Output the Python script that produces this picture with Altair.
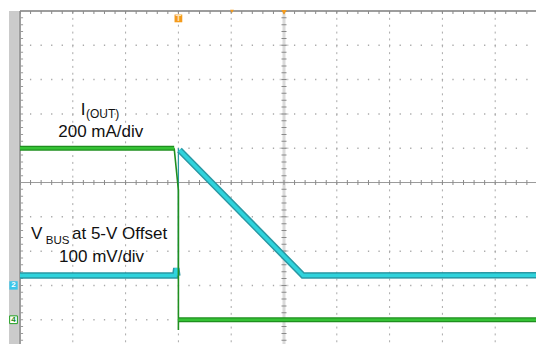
import altair as alt
import pandas as pd

# ---- data (time and amplitude in scope divisions, 0 = screen centre) ----
# I(OUT) trace, channel 4
iout_seg = ["a", "a", "b", "b", "b", "c", "c"]
iout_t = [-5.0, -2.08, -2.08, -2.0, -2.0, -2.0, 4.78]
iout_v = [1.0, 1.0, 1.0, -0.22, -4.3, -4.0, -4.0]

# VBUS trace, channel 2
vbus_seg = ["a", "a", "a", "a", "b", "b", "c", "c", "c"]
vbus_t = [-5.0, -2.06, -2.04, -2.02, -2.0, -2.0, -1.98, 0.36, 4.78]
vbus_v = [-2.71, -2.71, -2.5, -2.72, -2.72, 1.0, 0.95, -2.71, -2.70]

# labels
label_text = ["I", "(OUT)", "200 mA/div", "V", "BUS", "at 5-V Offset", "100 mV/div"]
label_t = [-3.85, -3.75, -4.275, -4.79, -4.51, -4.015, -4.26]
label_v = [1.97, 1.883, 1.329, -1.653, -1.79, -1.653, -2.315]
label_size = [17, 12, 17, 17, 11.5, 17, 17]

# graticule
vgrid_t = [-4, -3, -2, -1, 1, 2, 3, 4]
hgrid_v = [4, 3, 2, 1, -1, -2, -3, -4]
X_MIN, X_MAX = -5.0, 4.7727
Y_MIN, Y_MAX = -4.707, 5.0

xs = alt.Scale(domain=[X_MIN, X_MAX], nice=False, zero=False)
ys = alt.Scale(domain=[Y_MIN, Y_MAX], nice=False, zero=False)


def X(f="t"):
    return alt.X(f + ":Q", scale=xs, axis=None)


def Y(f="v"):
    return alt.Y(f + ":Q", scale=ys, axis=None)


def trace_df(seg, t, v):
    return pd.DataFrame({"seg": seg, "t": t, "v": v, "i": list(range(len(t)))})


vdf = pd.DataFrame({"t": vgrid_t, "top": Y_MAX, "bot": Y_MIN})
hdf = pd.DataFrame({"v": hgrid_v, "l": X_MIN, "r": X_MAX})

layers = []

# left grey bar
bar = alt.Chart(pd.DataFrame({"a": [-5.208], "b": [-5.02], "top": [Y_MAX], "bot": [Y_MIN]})).mark_rect(
    color="#cbcbcb").encode(x=X("a"), x2="b", y=Y("top"), y2="bot")
layers.append(bar)

# dotted grid
layers.append(alt.Chart(vdf).mark_rule(color="#a9a9a9", strokeWidth=1, strokeDash=[2, 4.86]).encode(
    x=X(), y=Y("top"), y2="bot"))
layers.append(alt.Chart(hdf).mark_rule(color="#a9a9a9", strokeWidth=1.5, strokeDash=[1.3, 9.26],
                                      strokeDashOffset=0.6).encode(y=Y(), x=X("l"), x2="r"))

# centre vertical axis
cv = pd.DataFrame({"t": [0.0], "top": [Y_MAX], "bot": [Y_MIN]})
layers.append(alt.Chart(cv).mark_rule(color="#dadada", strokeWidth=3).encode(x=X(), y=Y("top"), y2="bot"))
layers.append(alt.Chart(cv).mark_rule(color="#d2d2d2", strokeWidth=9, strokeDash=[1.5, 32.8],
                                      strokeDashOffset=0.75).encode(x=X(), y=Y("top"), y2="bot"))
layers.append(alt.Chart(cv).mark_rule(color="#8a8a8a", strokeWidth=5, strokeDash=[1, 5.86],
                                      strokeDashOffset=0.5).encode(x=X(), y=Y("top"), y2="bot"))
# centre horizontal axis
ch = pd.DataFrame({"v": [0.0], "l": [X_MIN], "r": [X_MAX]})
layers.append(alt.Chart(ch).mark_rule(color="#9a9a9a", strokeWidth=1).encode(y=Y(), x=X("l"), x2="r"))
layers.append(alt.Chart(ch).mark_rule(color="#8a8a8a", strokeWidth=5, strokeDash=[1, 9.56],
                                      strokeDashOffset=0.5).encode(y=Y(), x=X("l"), x2="r"))
# top border
tb = pd.DataFrame({"v": [Y_MAX], "l": [X_MIN], "r": [X_MAX]})
layers.append(alt.Chart(tb).mark_rule(color="#7d7d7d", strokeWidth=1.5).encode(y=Y(), x=X("l"), x2="r"))
tt = pd.DataFrame({"v": [4.958], "l": [X_MIN], "r": [X_MAX]})
layers.append(alt.Chart(tt).mark_rule(color="#8a8a8a", strokeWidth=3, strokeDash=[1, 9.56],
                                      strokeDashOffset=0.5).encode(y=Y(), x=X("l"), x2="r"))
# left border
lb = pd.DataFrame({"t": [X_MIN], "top": [Y_MAX], "bot": [Y_MIN]})
layers.append(alt.Chart(lb).mark_rule(color="#7d7d7d", strokeWidth=1.5).encode(x=X(), y=Y("top"), y2="bot"))
lt = pd.DataFrame({"t": [-4.97], "top": [Y_MAX], "bot": [Y_MIN]})
layers.append(alt.Chart(lt).mark_rule(color="#9a9a9a", strokeWidth=3, strokeDash=[1, 5.86],
                                      strokeDashOffset=0.5).encode(x=X(), y=Y("top"), y2="bot"))

# traces
ddf = trace_df(vbus_seg, vbus_t, vbus_v)
ddf["w1"] = [1.3 if s == "b" else 6.5 for s in vbus_seg]
ddf["w2"] = [0.0 if s == "b" else 3.5 for s in vbus_seg]
gdf = trace_df(iout_seg, iout_t, iout_v)
gdf["w1"] = [1.6 if s == "b" else 5.0 for s in iout_seg]
gdf["w2"] = [0.0 if s == "b" else 2.6 for s in iout_seg]

for df, dark, bright in [(ddf, "#2a98a4", "#2fd3dc"), (gdf, "#1f8f1f", "#35c235")]:
    layers.append(alt.Chart(df).mark_line(color=dark, strokeJoin="miter", strokeCap="butt").encode(
        x=X(), y=Y(), detail="seg:N", order="i:Q", strokeWidth=alt.StrokeWidth("w1:Q", scale=None)))
    layers.append(alt.Chart(df).mark_line(color=bright, strokeJoin="miter", strokeCap="butt").encode(
        x=X(), y=Y(), detail="seg:N", order="i:Q", strokeWidth=alt.StrokeWidth("w2:Q", scale=None)))

# markers
layers.append(alt.Chart(pd.DataFrame({"t": [-2.0], "v": [4.784]})).mark_point(
    shape="square", filled=True, color="#f49b1c", size=60, opacity=1).encode(x=X(), y=Y()))
layers.append(alt.Chart(pd.DataFrame({"t": [-2.0], "v": [4.784], "s": ["T"]})).mark_text(
    color="#fde3b8", fontSize=9, fontWeight="bold", font="Liberation Sans", baseline="middle").encode(
    x=X(), y=Y(), text="s:N"))
layers.append(alt.Chart(pd.DataFrame({"t": [-0.985, 0.0], "v": [4.99, 4.96], "sz": [14, 30]})).mark_point(
    shape="triangle-down", filled=True, color="#f49b1c", opacity=1).encode(
    x=X(), y=Y(), size=alt.Size("sz:Q", scale=None)))
layers.append(alt.Chart(pd.DataFrame({"t": [-5.123], "v": [-3.0]})).mark_point(
    shape="square", filled=True, color="#3cc6ea", size=70, opacity=1).encode(x=X(), y=Y()))
layers.append(alt.Chart(pd.DataFrame({"t": [-5.123], "v": [-4.0]})).mark_point(
    shape="square", filled=True, fill="white", stroke="#22a022", strokeWidth=1, size=60, opacity=1).encode(
    x=X(), y=Y()))
layers.append(alt.Chart(pd.DataFrame({"t": [-5.123, -5.123], "v": [-3.0, -4.0], "s": ["2", "4"],
                                      "c": ["#ffffff", "#1a8a1a"]})).mark_text(
    fontSize=8, fontWeight="bold", font="Liberation Sans", baseline="middle").encode(
    x=X(), y=Y(), text="s:N", color=alt.Color("c:N", scale=None)))

# labels
ldf = pd.DataFrame({"t": label_t, "v": label_v, "s": label_text, "fs": label_size})
layers.append(alt.Chart(ldf).mark_text(align="left", baseline="alphabetic", font="Liberation Sans",
                                       color="#111111").encode(
    x=X(), y=Y(), text="s:N", size=alt.Size("fs:Q", scale=None)))

chart = alt.layer(*layers).properties(
    width=516, height=333, padding={"left": 12, "top": 3, "right": 0, "bottom": 0},
    autosize=alt.AutoSizeParams(type="none"),
    background="white",
).configure_view(strokeWidth=0)

chart.save("out.html", embed_options={"renderer": "svg", "actions": False})
